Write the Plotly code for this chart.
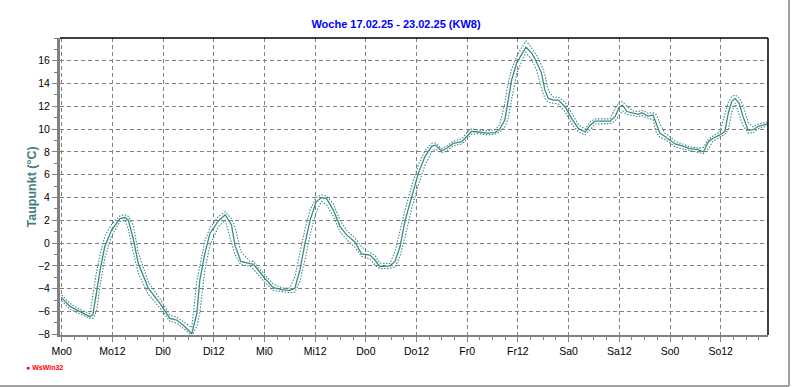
import plotly.graph_objects as go

# ---- data ----
hours = [0, 2, 4, 5.5, 6.7, 7.4, 8.3, 9.1, 10.2, 11.8, 13.8, 15.0, 15.8, 17.0, 18.1, 20.5,
         23.3, 25.6, 27.2, 28.8, 30.8, 32.0, 32.7, 33.9, 35.1, 37.1, 38.7, 40.2, 41.0, 42.4,
         44.6, 45.4, 48.1, 50.1, 52.4, 54.0, 55.2, 56.4, 57.6, 58.8, 60.2, 61.5, 62.7, 64.3,
         65.9, 67.5, 69.4, 71.0, 73.0, 74.2, 75.3, 77.7, 78.9, 80.1, 81.3, 82.8, 84.4, 86.0,
         87.6, 88.4, 89.9, 91.1, 92.7, 94.7, 95.9, 97.0, 98.6, 100.6, 102.6, 103.7, 104.9,
         105.7, 106.5, 107.7, 108.9, 109.9, 111.3, 112.4, 113.6, 114.4, 115.2, 116.4, 117.6,
         119.2, 120.7, 122.3, 123.9, 125.1, 126.3, 129.8, 131.0, 132.0, 132.8, 133.8, 135.3,
         136.5, 137.3, 138.8, 140.0, 140.8, 141.6, 142.8, 144.0, 145.2, 146.7, 148.7, 150.7,
         151.9, 153.1, 154.2, 155.8, 157.0, 157.8, 158.6, 159.4, 160.4, 161.3, 162.5, 163.7,
         164.9, 166.1, 167.3]

dewpoint = [-4.8, -5.55, -5.95, -6.2, -6.45, -6.25, -4.1, -2.35, -0.3, 1.15, 2.15, 2.25, 2.0,
            0.3, -1.75, -3.95, -5.3, -6.6, -6.75, -7.2, -7.95, -6.15, -3.25, -0.9, 0.85, 1.95,
            2.5, 1.6, -0.15, -1.6, -1.8, -1.85, -3.1, -3.9, -4.1, -4.15, -3.95, -2.35, 0.0,
            2.0, 3.6, 4.0, 3.9, 2.9, 1.45, 0.7, 0.1, -0.95, -1.05, -1.5, -2.05, -2.0, -1.6,
            -0.3, 2.0, 3.9, 6.1, 7.6, 8.5, 8.6, 8.1, 8.3, 8.75, 8.9, 9.4, 9.8, 9.75, 9.65,
            9.7, 10.0, 10.8, 12.4, 14.3, 15.8, 16.5, 17.2, 16.65, 15.9, 14.9, 13.4, 12.7,
            12.55, 12.55, 11.95, 10.95, 10.05, 9.75, 10.35, 10.7, 10.7, 11.1, 11.95, 12.1,
            11.55, 11.4, 11.3, 11.45, 11.15, 11.25, 10.5, 9.65, 9.35, 9.05, 8.7, 8.55, 8.3,
            8.2, 8.0, 8.9, 9.2, 9.5, 9.8, 11.4, 12.4, 12.7, 12.25, 11.1, 9.9, 9.95, 10.25,
            10.35, 10.5]

dew_max = [-4.55, -5.3, -5.75, -6.0, -6.2, -4.5, -2.4, -1.0, 0.6, 1.65, 2.4, 2.5, 2.35,
           1.5, -0.8, -3.4, -4.9, -6.3, -6.5, -6.9, -7.4, -3.3, -1.9, 0.2, 1.35, 2.35,
           2.75, 2.15, 1.45, -0.75, -1.6, -1.6, -2.8, -3.6, -3.95, -3.95, -2.95, -0.95,
           1.25, 2.9, 4.0, 4.25, 4.15, 3.45, 2.0, 1.1, 0.45, -0.35, -0.85, -1.1, -1.75,
           -1.8, -0.75, 1.15, 2.95, 4.95, 6.85, 8.1, 8.75, 8.8, 8.3, 8.5, 8.95, 9.15, 9.7,
           10.0, 9.95, 9.85, 9.95, 10.4, 12.25, 14.1, 15.25, 16.35, 17.15, 17.75, 17.1,
           16.5, 15.6, 14.75, 13.4, 12.8, 12.8, 12.35, 11.45, 10.4, 10.0, 10.65, 10.9,
           10.9, 11.8, 12.35, 12.4, 12.0, 11.6, 11.55, 11.65, 11.4, 11.45, 11.25, 10.5,
           9.65, 9.35, 8.95, 8.75, 8.45, 8.35, 8.4, 9.1, 9.4, 9.75, 11.25, 12.35, 12.85,
           13.0, 12.75, 12.1, 10.6, 10.2, 10.45, 10.55, 10.65]

dew_min = [-5.05, -5.8, -6.15, -6.4, -6.6, -6.6, -5.9, -3.7, -1.3, 0.6, 1.9, 2.0, 1.2,
           -0.9, -2.6, -4.5, -5.7, -6.85, -7.0, -7.5, -8.1, -7.3, -6.1, -2.35, -0.2, 1.45,
           2.0, 0.05, -1.0, -1.9, -2.0, -2.3, -3.45, -4.15, -4.3, -4.35, -4.3, -3.35,
           -1.45, 0.75, 2.7, 3.65, 3.35, 2.35, 1.0, 0.3, -0.35, -1.15, -1.4, -1.95, -2.25,
           -2.2, -2.1, -1.15, 0.6, 2.95, 5.05, 6.85, 8.0, 8.25, 7.95, 8.05, 8.55, 8.7, 9.1,
           9.55, 9.6, 9.5, 9.55, 9.75, 10.2, 10.95, 12.6, 14.85, 15.95, 16.75, 16.05, 15.2,
           13.55, 12.7, 12.35, 12.3, 12.2, 11.5, 10.5, 9.75, 9.5, 9.95, 10.45, 10.5, 10.7,
           11.25, 11.6, 11.3, 11.2, 11.1, 11.2, 10.95, 10.85, 9.65, 9.3, 9.1, 8.8, 8.45,
           8.3, 8.15, 8.0, 7.85, 8.3, 8.95, 9.3, 9.55, 9.95, 11.45, 12.3, 11.25, 10.3, 9.65,
           9.7, 10.05, 10.15, 10.3]

tick_hours = [0, 12, 24, 36, 48, 60, 72, 84, 96, 108, 120, 132, 144, 156]
tick_labels = ["Mo0", "Mo12", "Di0", "Di12", "Mi0", "Mi12", "Do0", "Do12",
               "Fr0", "Fr12", "Sa0", "Sa12", "So0", "So12"]
y_ticks = [-8, -6, -4, -2, 0, 2, 4, 6, 8, 10, 12, 14, 16]

title_text = "Woche 17.02.25 - 23.02.25 (KW8)"
y_title = "Taupunkt (°C)"

LINE = "#3d8884"
FONT = "Liberation Sans, Arial, sans-serif"

fig = go.Figure()
fig.add_trace(go.Scatter(x=hours, y=dew_max, mode="lines",
                         line=dict(color=LINE, width=1.1, dash="1.5px,1.5px"), hoverinfo="skip"))
fig.add_trace(go.Scatter(x=hours, y=dew_min, mode="lines",
                         line=dict(color=LINE, width=1.1, dash="1.5px,1.5px"), hoverinfo="skip"))
fig.add_trace(go.Scatter(x=hours, y=dewpoint, mode="lines",
                         line=dict(color=LINE, width=1.3)))

fig.update_layout(
    width=792, height=387,
    margin=dict(l=60, r=24, t=38, b=52),
    paper_bgcolor="white", plot_bgcolor="white",
    showlegend=False,
    font=dict(family=FONT, size=10.5, color="black"),
    title=dict(text="<b>" + title_text + "</b>", x=0.5, xref="container", xanchor="center",
               y=1 - 24 / 387, yref="container", yanchor="middle",
               font=dict(family=FONT, size=11, color="#0000ff")),
)

fig.update_xaxes(
    range=[-0.4, 167.2], tickmode="array", tickvals=tick_hours, ticktext=tick_labels,
    showgrid=True, gridcolor="#808080", gridwidth=1, griddash="4px,3px",
    showline=True, linecolor="#808080", linewidth=2,
    ticks="outside", ticklen=5, tickcolor="#808080", tickwidth=1,
    minor=dict(dtick=3, tick0=0, ticks="outside", ticklen=3, tickcolor="#808080", showgrid=False),
    zeroline=False, tickfont=dict(family=FONT, size=10.5, color="black"),
)
fig.update_yaxes(
    range=[-8.06, 18], tickmode="array", tickvals=y_ticks,
    showgrid=True, gridcolor="#808080", gridwidth=1, griddash="4px,3px",
    showline=True, linecolor="#808080", linewidth=3,
    ticks="outside", ticklen=5, tickcolor="#808080", tickwidth=1,
    minor=dict(dtick=1, tick0=-8, ticks="outside", ticklen=3, tickcolor="#808080", showgrid=False),
    zeroline=False, tickfont=dict(family=FONT, size=10.5, color="black"),
)

# top and right black border of the plot area
fig.add_shape(type="line", xref="paper", yref="paper", x0=0, x1=1, y0=1, y1=1,
              line=dict(color="black", width=1.5))
fig.add_shape(type="line", xref="paper", yref="paper", x0=1, x1=1, y0=0, y1=1,
              line=dict(color="black", width=1.5))
# light outer frame (right and bottom)
fig.add_shape(type="line", xref="paper", yref="paper", x0=(789 - 60) / 708, x1=(789 - 60) / 708,
              y0=(335 - 386) / 297, y1=(335 - 0) / 297, line=dict(color="#a0a0a0", width=2))
fig.add_shape(type="line", xref="paper", yref="paper", x0=(0 - 60) / 708, x1=(789 - 60) / 708,
              y0=(335 - 386) / 297, y1=(335 - 386) / 297, line=dict(color="#a0a0a0", width=2))

fig.add_annotation(text="<b>" + y_title + "</b>", xref="paper", yref="paper",
                   x=(31.5 - 60) / 708, y=(335 - 187) / 297, textangle=-90,
                   showarrow=False, xanchor="center", yanchor="middle",
                   font=dict(family=FONT, size=12.5, color="#3f8080"))
fig.add_annotation(text="<b>● WsWin32</b>", xref="paper", yref="paper",
                   x=(24 - 60) / 708, y=(335 - 367.7) / 297, showarrow=False,
                   xanchor="left", yanchor="middle",
                   font=dict(family=FONT, size=7, color="#ff0000"))

fig.write_html("out.html", config={"displayModeBar": False},
               post_script="document.body.style.margin='0px';")
